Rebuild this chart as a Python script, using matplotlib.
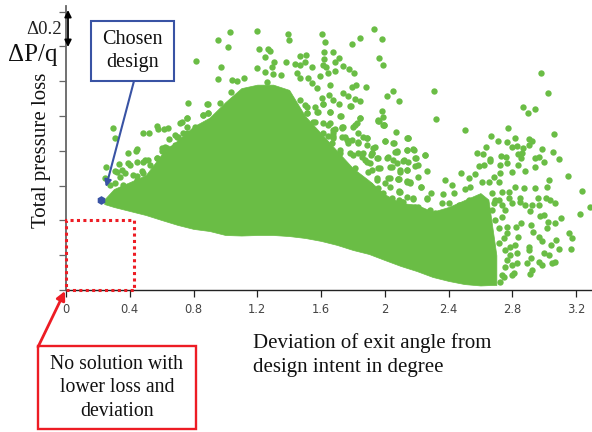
import matplotlib
matplotlib.use("Agg")
import matplotlib.pyplot as plt
from matplotlib.patches import Rectangle

# deviation (deg) / total pressure loss values
chosen_design = (0.22, 0.517)
x_ticks = [0, 0.4, 0.8, 1.2, 1.6, 2.0, 2.4, 2.8, 3.2]
x_tick_labels = ["0", "0.4", "0.8", "1.2", "1.6", "2", "2.4", "2.8", "3.2"]
y_ticks = [0, 0.2, 0.4, 0.6, 0.8, 1.0, 1.2, 1.4, 1.6]

# solid part of the cloud, lower and upper edge
cloud_x = [0.24, 0.3, 0.4, 0.5, 0.6, 0.7, 0.8, 0.9, 1.0, 1.1, 1.2, 1.3, 1.4, 1.5, 1.6, 1.7, 1.8,
           1.9, 2.0, 2.1, 2.2, 2.3, 2.4, 2.5, 2.6, 2.65, 2.7]
cloud_lower = [0.494, 0.477, 0.454, 0.431, 0.402, 0.374, 0.351, 0.339, 0.316, 0.313, 0.316, 0.316,
               0.310, 0.299, 0.282, 0.259, 0.230, 0.207, 0.172, 0.138, 0.109, 0.075, 0.052, 0.034,
               0.026, 0.028, 0.029]
cloud_upper = [0.52, 0.58, 0.62, 0.66, 0.78, 0.86, 0.94, 0.99, 1.08, 1.16, 1.18, 1.18, 1.15,
               1.00, 0.90, 0.80, 0.70, 0.63, 0.55, 0.50, 0.49, 0.45, 0.477, 0.517, 0.557,
               0.52, 0.2]

# separate designs around the solid part
upper_points = [
    (.952, 1.437), (1.027, 1.481), (1.014, 1.398), (1.198, 1.486), (1.395, 1.469), (1.401, 1.437),
    (1.606, 1.473), (1.627, 1.423), (1.933, 1.500), (1.981, 1.442), (1.845, 1.448), (1.793, 1.412),
    (1.211, 1.387), (1.265, 1.387), (1.280, 1.371), (1.249, 1.337), (.973, 1.281), (1.198, 1.274),
    (.952, 1.211), (1.039, 1.205), (1.075, 1.203), (1.117, 1.216), (1.035, 1.138), (1.249, 1.255),
    (1.259, 1.197), (1.305, 1.312), (1.295, 1.279), (1.301, 1.241), (1.349, 1.234), (1.383, 1.312),
    (1.468, 1.345), (1.504, 1.352), (1.439, 1.301), (1.468, 1.293), (1.500, 1.312), (1.542, 1.283),
    (1.619, 1.368), (1.675, 1.368), (1.621, 1.325), (1.713, 1.331), (1.688, 1.312), (1.611, 1.293),
    (1.632, 1.279), (1.736, 1.287), (1.778, 1.268), (1.805, 1.245), (1.646, 1.245), (1.688, 1.260),
    (1.447, 1.249), (1.468, 1.216), (1.521, 1.220), (1.542, 1.188), (1.594, 1.232), (1.657, 1.180),
    (1.573, 1.159), (1.818, 1.180), (1.793, 1.165), (1.880, 1.168), (1.736, 1.130), (1.772, 1.115),
    (1.813, 1.097), (1.845, 1.088), (1.652, 1.119), (1.604, 1.105), (1.677, 1.092), (1.715, 1.069),
    (1.615, 1.069), (1.562, 1.053), (1.573, 1.025), (1.657, 1.025), (1.786, 1.057), (1.962, 1.331),
    (1.991, 1.293), (2.050, 1.143), (2.016, 1.113), (2.090, 1.088), (1.981, 1.029), (1.991, .996),
    (1.962, .973), (1.995, .948), (1.724, 1.000), (1.845, .986), (1.824, .958), (2.071, .906),
    (2.002, .856), (2.058, .843), (2.075, .801), (1.929, .814), (1.912, .776), (2.018, .766),
    (1.562, .967), (1.615, .958), (1.646, .948), (1.730, .939), (1.688, .923), (1.866, .881),
    (1.887, .871), (1.646, .885), (1.677, .885), (1.730, .881), (1.793, .862), (.893, 1.067),
    (.966, 1.073), (1.050, 1.069), (1.510, 1.053), (1.510, 1.015), (1.468, 1.092),
]
right_points = [
    (2.309, 1.143), (2.323, .981), (2.501, .917), (2.978, 1.249), (3.024, 1.130), (2.867, 1.050),
    (2.896, 1.019), (2.945, 1.038), (2.773, .931), (2.664, .887), (2.710, .856), (2.767, .848),
    (2.815, .871), (2.637, .824), (2.581, .785), (2.614, .779), (2.903, .866), (2.924, .856),
    (2.798, .824), (2.830, .827), (2.865, .814), (2.903, .833), (2.836, .781), (2.986, .808),
    (3.053, .793), (3.060, .898), (2.145, .873), (2.139, .804), (2.181, .804), (2.254, .774),
    (2.731, .770), (2.760, .762), (2.658, .751), (2.857, .756), (2.945, .756), (2.965, .766),
    (3.095, .751), (2.191, .756), (2.118, .747), (2.191, .715), (2.265, .686), (2.139, .690),
    (2.097, .680), (2.087, .636), (2.208, .648), (2.160, .613), (2.139, .629), (2.229, .594),
    (2.091, .566), (2.175, .521), (2.292, .556), (2.265, .521), (2.108, .508), (2.478, .671),
    (2.380, .633), (2.422, .604), (2.363, .550), (2.432, .556), (2.505, .579), (2.537, .594),
    (2.526, .642), (2.568, .667), (2.593, .715), (2.662, .742), (2.620, .719), (2.725, .719),
    (2.767, .728), (2.798, .680), (2.725, .671), (2.714, .623), (2.610, .623), (2.652, .623),
    (2.683, .652), (2.836, .719), (2.882, .686), (2.940, .709), (2.997, .738), (2.861, .786),
    (3.028, .633), (3.018, .590), (3.147, .656), (3.237, .567), (2.871, .585), (2.945, .585),
    (2.819, .594), (2.777, .565), (2.735, .565), (2.673, .556), (2.694, .518), (2.777, .527),
    (2.850, .527), (2.798, .498), (2.850, .508), (2.878, .489), (2.959, .527), (2.924, .489),
    (2.965, .489), (3.011, .531), (3.039, .518), (3.070, .502), (2.913, .454), (2.997, .431),
    (2.976, .428), (3.108, .412), (3.223, .437), (3.290, .479), (3.024, .393), (3.070, .387),
    (3.018, .355), (2.919, .374), (2.857, .387), (2.823, .361), (2.930, .332), (2.965, .303),
    (2.986, .284), (3.154, .330), (3.175, .297), (3.074, .288), (3.045, .259), (3.095, .236),
    (3.168, .236), (2.836, .303), (2.767, .326), (2.746, .297), (2.788, .249), (2.819, .259),
    (2.903, .249), (2.903, .230), (2.997, .211), (3.028, .202), (2.919, .182), (2.892, .157),
    (2.965, .163), (2.986, .144), (3.070, .163), (3.049, .154), (2.924, .115), (2.913, .090),
    (2.830, .211), (2.788, .202), (2.830, .154), (2.798, .144), (2.809, .096), (2.746, .077),
    (2.725, .048), (2.359, .498), (2.401, .498), (2.463, .489), (2.526, .518), (2.558, .498),
    (2.610, .518), (2.286, .460), (2.191, .479), (2.129, .479), (2.087, .518), (2.223, .441),
    (2.254, .412), (2.317, .441), (2.359, .441), (2.442, .451), (2.495, .470), (2.568, .479),
    (2.631, .489), (2.714, .355), (2.694, .403), (2.735, .422), (2.756, .460), (2.767, .364),
    (2.714, .269), (2.756, .230), (2.767, .173), (2.756, .135), (2.735, .087), (2.798, .087),
    (2.683, .498), (2.714, .518), (2.735, .489), (2.673, .460),
]
left_points = [
    (.816, 1.316), (.768, 1.077), (.887, 1.069), (.297, .931), (.310, .876), (.486, .900),
    (.521, .900), (.569, .943), (.580, .925), (.615, .924), (.638, .933), (.647, .868),
    (.758, .990), (.726, .968), (.758, .939), (.810, .939), (.862, 1.006), (.894, 1.015),
    (.873, .939), (.705, .881), (.737, .862), (.789, .891), (.841, .891), (.887, .900),
    (.444, .809), (.622, .820), (.664, .814), (.601, .814), (.387, .786), (.439, .799),
    (.249, .705), (.333, .725), (.245, .642), (.308, .681), (.339, .652), (.402, .719),
    (.443, .738), (.496, .748), (.527, .719), (.569, .757), (.600, .801), (.632, .815),
    (.684, .834), (.695, .882), (.736, .901), (.370, .671), (.423, .661), (.475, .681),
    (.548, .671), (.360, .604), (.308, .613), (.276, .604), (.443, .633), (.506, .613),
    (.569, .652), (.600, .700), (.663, .748), (.726, .776), (.684, .786), (.768, .805),
    (.810, .824), (.851, .843), (.684, .890), (.715, .957), (.761, .986), (.862, 1.005),
    (.893, 1.015), (.757, .900), (.841, .900), (.893, .910), (.715, .843), (.652, .804),
    (.610, .804), (.569, .756), (.516, .747), (.485, .737), (.391, .727), (.349, .689),
    (.318, .680), (.443, .655), (.485, .670), (.527, .641), (.600, .718), (.631, .737),
    (.673, .775), (.778, .833), (.841, .842), (.893, .862),
]
middle_points = [
    (1.426, 1.044), (1.499, 1.063), (1.510, 1.015), (1.583, 1.025), (1.614, 1.069), (1.656, 1.025),
    (1.719, 1.000), (1.782, 1.057), (1.844, .987), (1.813, .948), (1.959, .973), (1.997, .948),
    (2.141, .872), (2.137, .805), (2.074, .795), (2.054, .747), (2.148, .738), (1.959, .757),
    (1.918, .785), (2.095, .690), (2.137, .690), (2.033, .709), (1.959, .699), (1.907, .728),
    (1.876, .747), (1.897, .680), (2.022, .642), (2.085, .636), (2.137, .623), (1.949, .632),
    (1.907, .594), (1.959, .584), (2.033, .594), (2.095, .565), (2.137, .536), (2.043, .527),
    (1.970, .546), (1.876, .556), (1.844, .613), (1.782, .642), (1.729, .680), (1.656, .728),
    (1.489, .948), (1.551, .967), (1.656, .958), (1.729, .929), (1.834, .900), (1.677, .900),
    (1.761, .862), (1.834, .843), (1.886, .872), (1.614, .900), (1.531, .900), (1.562, .843),
    (1.667, .843), (1.719, .785), (1.802, .776), (1.855, .766), (1.813, .699), (1.802, .938),
    (1.740, .938), (1.677, .919), (1.677, .871), (1.750, .881), (1.771, .842), (1.834, .852),
    (1.886, .833), (1.938, .819), (2.001, .856), (2.053, .842), (1.918, .785), (1.949, .756),
    (2.012, .756), (2.064, .795), (2.074, .727), (2.043, .708), (1.970, .699), (1.918, .689),
    (1.886, .737), (1.834, .785), (1.782, .785), (1.719, .804), (2.116, .743), (2.179, .808),
    (2.196, .756), (2.252, .775), (2.210, .718), (2.158, .622), (2.085, .636), (2.033, .641),
    (2.001, .613), (1.949, .641), (1.907, .603), (1.928, .565), (1.991, .555), (2.091, .568),
    (2.225, .593), (2.175, .526), (2.263, .526), (2.116, .507), (2.053, .488), (2.210, .478),
    (2.143, .871), (1.991, .948), (1.959, .977), (1.865, .785),
]

GREEN = "#6abd45"
BLUE = "#3953a4"
RED = "#ed1c24"
SERIF = "Liberation Serif"
W, H = 592, 432


def fig_xy(px, py):
    """Position in the 592x432 frame as figure fraction."""
    return px / W, 1 - py / H


fig = plt.figure(figsize=(W / 100, H / 100), dpi=100)
ax = fig.add_axes([66 / W, (H - 290) / H, (W - 66) / W, 284 / H])
ax.set_xlim(0, 3.30)
ax.set_ylim(0, 1.632)

ax.fill_between(cloud_x, cloud_lower, cloud_upper, color=GREEN, linewidth=0.5)
for pts in (upper_points, right_points, left_points, middle_points):
    xs, ys = zip(*pts)
    ax.scatter(xs, ys, s=21, marker="o", color=GREEN, linewidths=0, clip_on=False)
ax.scatter(*chosen_design, s=40, marker="h", color=BLUE, linewidths=0, zorder=4)

for side in ("top", "right"):
    ax.spines[side].set_visible(False)
ax.spines["left"].set_color("#666666")
ax.spines["left"].set_linewidth(1.3)
ax.spines["bottom"].set_color("#222222")
ax.spines["bottom"].set_linewidth(1.0)
ax.set_xticks(x_ticks, x_tick_labels, fontsize=8.3, color="#444444", family="DejaVu Sans")
ax.set_yticks(y_ticks, [""] * len(y_ticks))
ax.tick_params(axis="x", length=5, width=0.9, color="#222222", pad=4.5)
ax.tick_params(axis="y", length=5, width=0.9, color="#666666")

# region with no solutions
ax.add_patch(Rectangle((0, 0), 0.427, 0.402, fill=False, edgecolor=RED, linewidth=2.2,
                       linestyle=(0, (1, 1.1)), clip_on=False, zorder=5))

# texts on the left
fig.text(*fig_xy(44, 30), "\u03940.2", family=SERIF, fontsize=13.5, color="#222222", ha="center", va="center")
fig.text(*fig_xy(33, 55), "\u0394P/q", family=SERIF, fontsize=18, color="#111111", ha="center", va="center")
fig.text(*fig_xy(42, 150), "Total pressure loss", family=SERIF, fontsize=15, color="#111111",
         rotation=90, ha="center", va="center")
fig.text(*fig_xy(253, 355), "Deviation of exit angle from\ndesign intent in degree", family=SERIF,
         fontsize=15, color="#111111", ha="left", va="center", linespacing=1.3)

# 0.2 step marker
ax.annotate("", xy=fig_xy(68, 10), xytext=fig_xy(68, 47), xycoords="figure fraction",
            textcoords="figure fraction",
            arrowprops=dict(arrowstyle="<|-|>", color="black", lw=1.3, shrinkA=0, shrinkB=0, mutation_scale=10))

# chosen design callout
fig.text(*fig_xy(132.5, 51), "Chosen\ndesign", family=SERIF, fontsize=14.5, color="#111111",
         ha="center", va="center", linespacing=1.3)
fig.add_artist(Rectangle(fig_xy(91, 81), 83 / W, 60 / H, transform=fig.transFigure, fill=False,
                         edgecolor=BLUE, linewidth=1.5))
ax.annotate("", xy=fig_xy(106, 187), xytext=fig_xy(134, 81), xycoords="figure fraction",
            textcoords="figure fraction", zorder=6,
            arrowprops=dict(arrowstyle="-|>", color=BLUE, lw=1.5, shrinkA=0, shrinkB=0, mutation_scale=10))

# no solution callout
fig.text(*fig_xy(117, 388), "No solution with\nlower loss and\ndeviation", family=SERIF, fontsize=14.2,
         color="#111111", ha="center", va="center", linespacing=1.35)
fig.add_artist(Rectangle(fig_xy(38, 429), 158 / W, 83 / H, transform=fig.transFigure, fill=False,
                         edgecolor=RED, linewidth=1.7))
ax.annotate("", xy=fig_xy(65, 291), xytext=fig_xy(38, 347), xycoords="figure fraction",
            textcoords="figure fraction", zorder=6,
            arrowprops=dict(arrowstyle="-|>", color=RED, lw=2, shrinkA=0, shrinkB=0, mutation_scale=13))

fig.savefig("out.png", dpi=100)
